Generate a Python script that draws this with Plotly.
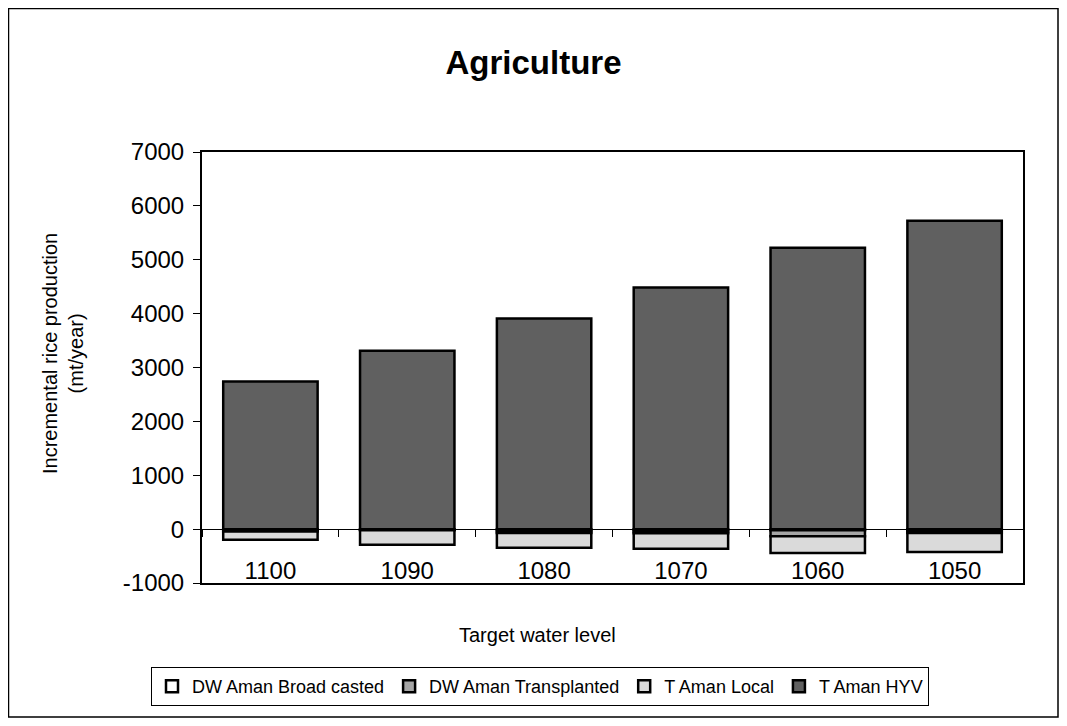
import plotly.graph_objects as go

# target water levels (categories)
levels = ["1100", "1090", "1080", "1070", "1060", "1050"]

# incremental rice production (mt/year)
dw_broad_casted = [-20, -10, -35, -40, -20, -35]
dw_transplanted = [-25, -10, -35, -35, -110, -35]
t_aman_local = [-150, -270, -275, -290, -315, -355]
t_aman_hyv = [2740, 3310, 3910, 4485, 5225, 5725]

# y-axis ticks (plain hyphen on the negative label, as in the original)
y_tickvals = [-1000, 0, 1000, 2000, 3000, 4000, 5000, 6000, 7000]
y_ticktext = ["-1000", "0", "1000", "2000", "3000", "4000", "5000", "6000", "7000"]

FONT = "Liberation Sans, Arial, sans-serif"

series = [
    ("DW Aman Broad casted", dw_broad_casted, "#ffffff"),
    ("DW Aman Transplanted", dw_transplanted, "#a6a6a6"),
    ("T Aman Local", t_aman_local, "#dadada"),
    ("T Aman HYV", t_aman_hyv, "#606060"),
]

fig = go.Figure()
for name, vals, col in series:
    fig.add_trace(go.Bar(
        x=levels, y=vals, name=name,
        marker=dict(color=col, line=dict(color="black", width=2.5)),
    ))

# invisible helper trace so the zero-crossing axis gets drawn
fig.add_trace(go.Scatter(
    x=levels, y=[0] * len(levels), xaxis="x2", mode="lines",
    line=dict(width=0), opacity=0, showlegend=False, hoverinfo="skip",
))

# page puts the figure at an 8px offset; work in screenshot pixels
OFF = 8
W, H = 1067 - 2 * OFF, 726 - 2 * OFF
L, R, T, B = 202, 1023, 152, 583


def px_x(p):
    return (p - L) / (R - L)


def px_y(p):
    return (B - p) / (B - T)


fig.update_layout(
    width=W,
    height=H,
    barmode="relative",
    bargap=0.31,
    plot_bgcolor="white",
    paper_bgcolor="white",
    font=dict(family=FONT, size=20, color="black"),
    margin=dict(l=L - OFF, r=W - (R - OFF), t=T - OFF, b=H - (B - OFF)),
    title=dict(
        text="<b>Agriculture</b>", x=0.5, xanchor="center",
        y=1 - (62 - OFF) / H, yanchor="middle", font=dict(size=33),
    ),
    xaxis=dict(
        type="category", categoryorder="array", categoryarray=levels,
        range=[-0.5, 5.5], showline=True, mirror=True, linewidth=2,
        linecolor="black", ticks="", showticklabels=False, showgrid=False,
    ),
    # axis crossing at zero: carries the category labels below it
    xaxis2=dict(
        type="category", categoryorder="array", categoryarray=levels,
        range=[-0.5, 5.5], overlaying="x", anchor="free",
        position=1000 / 8000, showline=True, linewidth=1, linecolor="black",
        ticks="outside", ticklen=7, tickwidth=1, tickcolor="black",
        tickson="boundaries", showgrid=False, ticklabelstandoff=20,
        tickfont=dict(size=24, color="black"),
    ),
    yaxis=dict(
        range=[-1000, 7000], tickvals=y_tickvals, ticktext=y_ticktext,
        showline=True, mirror=True,
        linewidth=2, linecolor="black", ticks="outside", ticklen=7,
        tickcolor="black", showgrid=False, zeroline=False,
        tickfont=dict(size=24, color="black"), ticklabelstandoff=4,
    ),
    legend=dict(
        orientation="h", xref="container", yref="container",
        x=(540 - OFF) / W, xanchor="center", y=1 - (667 - OFF) / H,
        yanchor="top", bordercolor="black", borderwidth=1,
        font=dict(size=18), itemwidth=30, tracegroupgap=0,
    ),
    annotations=[
        dict(
            text="Incremental rice production<br>(mt/year)", xref="paper",
            yref="paper", x=px_x(63), y=px_y(354), textangle=-90,
            showarrow=False, font=dict(size=20), xanchor="center",
            yanchor="middle",
        ),
        dict(
            text="Target water level", xref="paper", yref="paper",
            x=px_x(537), y=px_y(635), showarrow=False, font=dict(size=20),
            xanchor="center", yanchor="middle",
        ),
    ],
    shapes=[
        dict(
            type="rect", xref="paper", yref="paper",
            x0=px_x(8.5), x1=px_x(1058), y0=px_y(717), y1=px_y(8.5),
            line=dict(color="black", width=1.5), layer="below",
        ),
    ],
)

fig.write_html("out.html")
